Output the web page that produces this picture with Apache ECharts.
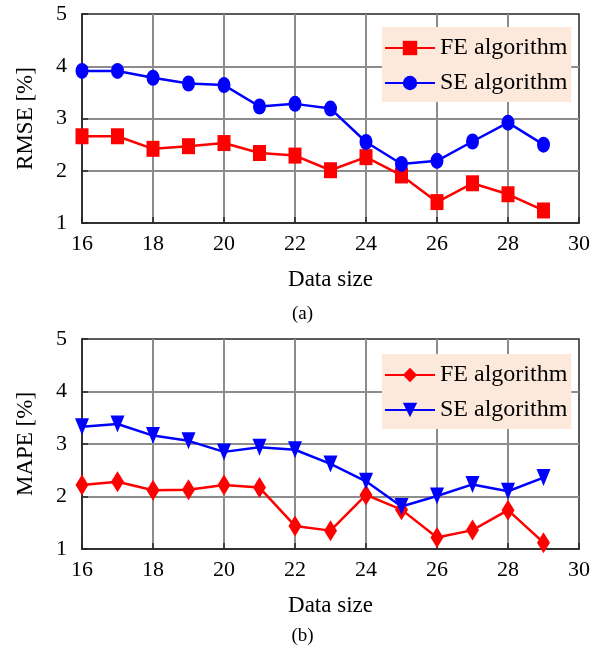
<!DOCTYPE html>
<html>
<head>
<meta charset="utf-8">
<script src="https://cdn.jsdelivr.net/npm/echarts@6/dist/echarts.min.js"></script>
<style>
html,body{margin:0;padding:0;background:#fff;}
#c1{position:absolute;left:0;top:0;width:605px;height:323px;}
#c2{position:absolute;left:0;top:323px;width:605px;height:324px;}
</style>
</head>
<body>
<div id="c1"></div>
<div id="c2"></div>
<script>
const dataSize = [16,17,18,19,20,21,22,23,24,25,26,27,28,29];
const rmseFE = [2.66,2.66,2.42,2.47,2.53,2.34,2.29,2.01,2.26,1.91,1.40,1.76,1.55,1.24];
const rmseSE = [3.91,3.91,3.78,3.67,3.64,3.23,3.28,3.19,2.55,2.13,2.19,2.56,2.92,2.50];
const mapeFE = [2.22,2.28,2.12,2.13,2.22,2.17,1.44,1.35,2.03,1.75,1.22,1.36,1.74,1.12];
const mapeSE = [3.33,3.38,3.16,3.06,2.85,2.94,2.89,2.62,2.29,1.81,2.01,2.23,2.10,2.36];
const xTicks = [16,18,20,22,24,26,28,30];
const yTicks = [1,2,3,4,5];
const seriesNames = ['FE algorithm','SE algorithm'];

const FONT = 'Liberation Serif';
const pairs = (xs, ys) => xs.map((x, i) => [x, ys[i]]);

function makeOption(yName, caption, feVals, seVals, feSym, seSym, gridTop, gridH, legendTop, captionTop) {
  return {
    animation: false,
    textStyle: {fontFamily: FONT},
    title: {
      text: caption, left: 'center', top: captionTop,
      textStyle: {fontFamily: FONT, fontSize: 19, fontWeight: 'normal', color: '#000'}
    },
    grid: {
      left: 82, top: gridTop, width: 497, height: gridH,
      show: true, borderColor: '#262626', borderWidth: 1.5, backgroundColor: 'transparent'
    },
    legend: {
      orient: 'vertical', left: 382, top: legendTop,
      backgroundColor: '#fde9dc',
      padding: [9, 4, 7, 2],
      itemWidth: 50, itemHeight: 18, itemGap: 11,
      textStyle: {fontFamily: FONT, fontSize: 24, color: '#000'},
      data: seriesNames
    },
    xAxis: {
      type: 'value', min: xTicks[0], max: xTicks[xTicks.length - 1], interval: 2,
      name: 'Data size', nameLocation: 'middle', nameGap: 45,
      nameTextStyle: {fontFamily: FONT, fontSize: 23, color: '#000'},
      axisLine: {show: true, lineStyle: {color: '#262626', width: 1.5}},
      axisTick: {show: true, inside: true, length: 6, lineStyle: {color: '#262626', width: 1.5}},
      axisLabel: {fontFamily: FONT, fontSize: 22, color: '#000', margin: 10},
      splitLine: {show: true, showMinLine: false, showMaxLine: false, lineStyle: {color: '#8c8c8c', width: 2}}
    },
    yAxis: {
      type: 'value', min: yTicks[0], max: yTicks[yTicks.length - 1], interval: 1,
      name: yName, nameLocation: 'middle', nameGap: 45,
      nameTextStyle: {fontFamily: FONT, fontSize: 23, color: '#000'},
      axisLine: {show: true, lineStyle: {color: '#262626', width: 1.5}},
      axisTick: {show: true, inside: true, length: 6, lineStyle: {color: '#262626', width: 1.5}},
      axisLabel: {fontFamily: FONT, fontSize: 22, color: '#000', margin: 15},
      splitLine: {show: true, showMinLine: false, showMaxLine: false, lineStyle: {color: '#8c8c8c', width: 2}}
    },
    series: [
      {
        name: seriesNames[0], type: 'line', data: pairs(dataSize, feVals),
        symbol: feSym.symbol, symbolSize: feSym.size, symbolRotate: feSym.rotate || 0,
        color: '#ff0000', lineStyle: {color: '#ff0000', width: 2.5},
        itemStyle: {color: '#ff0000'}, z: 3
      },
      {
        name: seriesNames[1], type: 'line', data: pairs(dataSize, seVals),
        symbol: seSym.symbol, symbolSize: seSym.size, symbolRotate: seSym.rotate || 0,
        color: '#0000ff', lineStyle: {color: '#0000ff', width: 2.5},
        itemStyle: {color: '#0000ff'}, z: 4
      }
    ]
  };
}

const c1 = echarts.init(document.getElementById('c1'));
c1.setOption(makeOption('RMSE [%]', '(a)', rmseFE, rmseSE,
  {symbol: 'rect', size: [13, 16]}, {symbol: 'circle', size: [13, 16]},
  14, 209, 27, 300));

const c2 = echarts.init(document.getElementById('c2'));
c2.setOption(makeOption('MAPE [%]', '(b)', mapeFE, mapeSE,
  {symbol: 'diamond', size: [13, 21]}, {symbol: 'triangle', size: [14, 17], rotate: 180},
  16, 210, 31, 299));
</script>
</body>
</html>
